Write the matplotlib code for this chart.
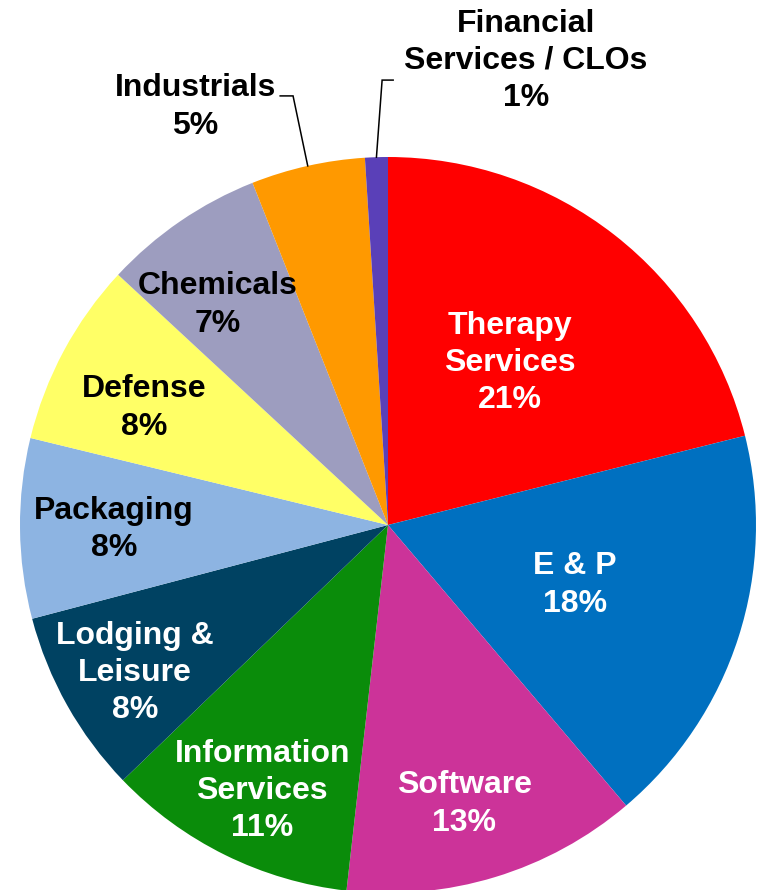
import numpy as np
import matplotlib.pyplot as plt

# slices, clockwise from 12 o'clock
sectors = ['Therapy\nServices', 'E & P', 'Software', 'Information\nServices',
           'Lodging &\nLeisure', 'Packaging', 'Defense', 'Chemicals',
           'Industrials', 'Financial\nServices / CLOs']
shares = [21.1, 17.7, 13.0, 11.0, 8.1, 7.9, 8.1, 7.1, 5.0, 1.0]
pct_labels = ['21%', '18%', '13%', '11%', '8%', '8%', '8%', '7%', '5%', '1%']

slice_colors = ['#FF0000', '#0070C0', '#CC3399', '#0A8C0A', '#004262',
                '#8DB4E2', '#FFFF66', '#9D9DBF', '#FF9900', '#5A40B8']
text_colors = ['white'] * 5 + ['black'] * 5

# label centres in axes data units (radius = 1)
label_pos = [(0.332, 0.440), (0.508, -0.163), (0.207, -0.758), (-0.342, -0.723),
             (-0.688, -0.402), (-0.745, -0.013), (-0.663, 0.318), (-0.462, 0.598),
             (-0.524, 1.136), (0.375, 1.261)]
# leader line corner / end for the two outside labels
leaders = {8: [(-0.258, 1.166), (-0.293, 1.166)],
           9: [(-0.016, 1.209), (0.014, 1.209)]}

plt.rcParams['font.family'] = ['Liberation Sans', 'DejaVu Sans']

fig = plt.figure(figsize=(7.61, 8.90), dpi=100)
ax = fig.add_axes([20 / 761, -3 / 890, 736 / 761, 736 / 890])

wedges, _ = ax.pie(shares, colors=slice_colors, startangle=90, counterclock=False,
                   radius=1.0, wedgeprops=dict(linewidth=0))

for i, w in enumerate(wedges):
    x, y = label_pos[i]
    ax.text(x, y, sectors[i] + '\n' + pct_labels[i], ha='center', va='center',
            fontsize=23, fontweight='bold', color=text_colors[i],
            linespacing=1.32, clip_on=False)
    if i in leaders:
        mid = np.deg2rad((w.theta1 + w.theta2) / 2)
        pts = [(np.cos(mid), np.sin(mid))] + leaders[i]
        ax.plot([p[0] for p in pts], [p[1] for p in pts], color='black',
                lw=1.1, clip_on=False, solid_joinstyle='miter')

ax.set_xlim(-1, 1)
ax.set_ylim(-1, 1)
ax.axis('off')

fig.savefig('out.png', dpi=100)
